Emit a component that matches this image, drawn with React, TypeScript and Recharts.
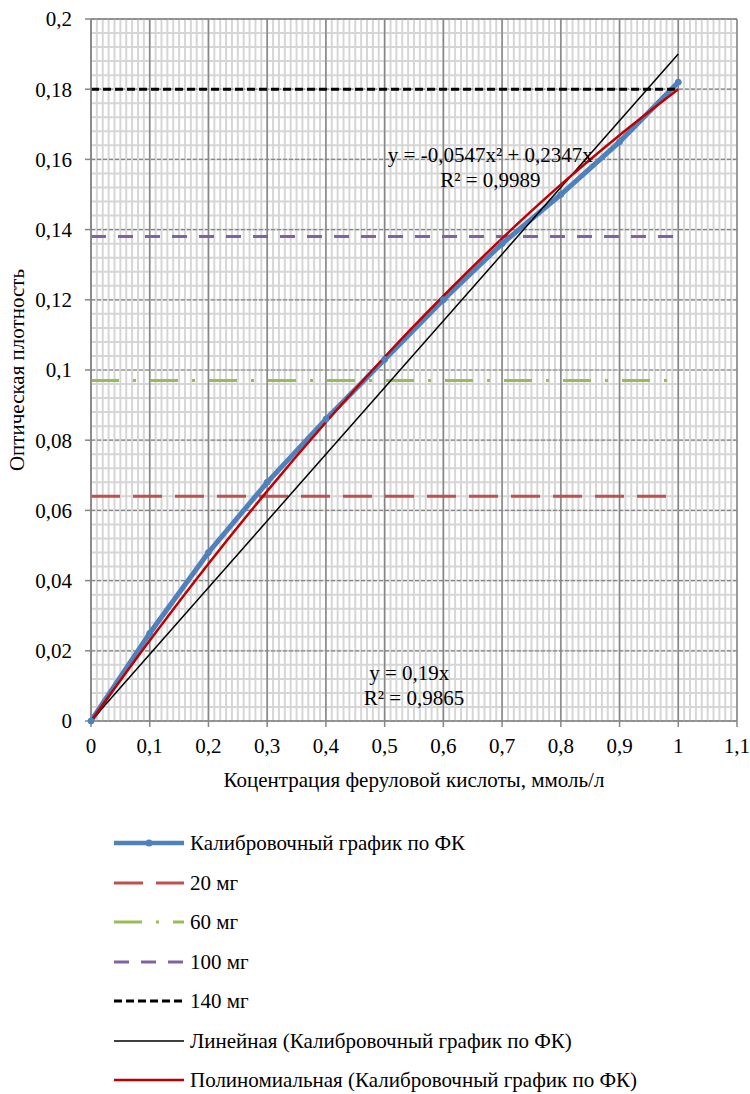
import React from 'react';
import { LineChart, Line, XAxis, YAxis, CartesianGrid, ReferenceLine, ReferenceDot } from 'recharts';

// page starts at the very corner, so the chart can use the full 750x1094 window
if (typeof document !== 'undefined') document.body.style.margin = '0';

const FONT = "'Liberation Serif', 'Times New Roman', serif";
const GRID = '#868686';
const MINOR = '#d6d6d6';

// tick labels
const xTicks = [0, 0.1, 0.2, 0.3, 0.4, 0.5, 0.6, 0.7, 0.8, 0.9, 1, 1.1];
const yTicks = [0, 0.02, 0.04, 0.06, 0.08, 0.1, 0.12, 0.14, 0.16, 0.18, 0.2];
const minorX = Array.from({ length: 111 }, (_, i) => +(i * 0.01).toFixed(2));
const minorY = Array.from({ length: 51 }, (_, i) => +(i * 0.004).toFixed(3));

// calibration curve (ferulic acid)
const concentrations = [0, 0.1, 0.2, 0.3, 0.4, 0.5, 0.6, 0.7, 0.8, 0.9, 1];
const absorbance = [0, 0.025, 0.048, 0.068, 0.086, 0.103, 0.12, 0.136, 0.15, 0.165, 0.182];
const polyTrend = [0, 0.0229, 0.0448, 0.0655, 0.0851, 0.1037, 0.1211, 0.1375, 0.1528, 0.1669, 0.18];
const linearX = [0, 1];
const linearY = [0, 0.19];

// sample levels
const levelX = [0, 1];
const level20 = 0.064;
const level60 = 0.097;
const level100 = 0.138;
const level140 = 0.18;

const toPoints = (xs: number[], ys: number[]) => xs.map((x, i) => ({ x, y: ys[i] }));
const flat = (v: number) => levelX.map(x => ({ x, y: v }));
const fmt = (v: number) => String(v).replace('.', ',');

const calData = toPoints(concentrations, absorbance);
const polyData = toPoints(concentrations, polyTrend);
const linData = toPoints(linearX, linearY);

const legendItems = [
  { name: 'Калибровочный график по ФК', color: '#4f81bd', width: 4.5, dash: undefined, dot: true },
  { name: '20 мг', color: '#c0504d', width: 3, dash: '29 13' },
  { name: '60 мг', color: '#9bbb59', width: 3, dash: '28 14 3 14' },
  { name: '100 мг', color: '#8064a2', width: 3, dash: '15 12' },
  { name: '140 мг', color: '#000000', width: 3, dash: '8 4' },
  { name: 'Линейная (Калибровочный график по ФК)', color: '#000000', width: 1.5, dash: undefined },
  { name: 'Полиномиальная (Калибровочный график по ФК)', color: '#c00000', width: 2.5, dash: undefined },
];

const textStyle = { fontSize: 21, fill: '#000', fontFamily: FONT };

const eqLabel = (value: string) => ({ value, position: 'center' as const, ...textStyle });

// minor grid positions: use the axis scale when recharts hands it over, else the plot offset
const minorVertical = (props: any) => {
  const s = props?.xAxis?.scale;
  if (typeof s === 'function') return minorX.map(v => s(v));
  if (s && typeof s.map === 'function') return minorX.map(v => s.map(v));
  const o = props?.offset ?? { left: 91, width: 646 };
  return minorX.map(v => o.left + (v / 1.1) * o.width);
};
const minorHorizontal = (props: any) => {
  const s = props?.yAxis?.scale;
  if (typeof s === 'function') return minorY.map(v => s(v));
  if (s && typeof s.map === 'function') return minorY.map(v => s.map(v));
  const o = props?.offset ?? { top: 19, height: 702 };
  return minorY.map(v => o.top + (1 - v / 0.2) * o.height);
};

export default function App() {
  return (
    <div style={{ position: 'relative', width: 750, height: 1094, fontFamily: FONT }}>
      <LineChart width={750} height={810} margin={{ top: 19, right: 13, left: 0, bottom: 0 }}>
        <XAxis
          type="number"
          dataKey="x"
          domain={[0, 1.1]}
          ticks={xTicks}
          tickFormatter={fmt}
          height={89}
          tickSize={6}
          tickMargin={11}
          stroke={GRID}
          strokeWidth={1.5}
          tick={textStyle}
          label={{
            content: (p: any) => (
              <text x={p.viewBox.x + p.viewBox.width / 2} y={p.viewBox.y + 66} textAnchor="middle" {...textStyle}>
                Коцентрация феруловой кислоты, ммоль/л
              </text>
            ),
          }}
        />
        <YAxis
          type="number"
          domain={[0, 0.2]}
          ticks={yTicks}
          tickFormatter={fmt}
          width={91}
          tickSize={6}
          tickMargin={13}
          stroke={GRID}
          strokeWidth={1.5}
          tick={textStyle}
          label={{
            content: (p: any) => {
              const cy = p.viewBox.y + p.viewBox.height / 2;
              return (
                <text x={24} y={cy} textAnchor="middle" transform={`rotate(-90, 24, ${cy})`} {...textStyle}>
                  Оптическая плотность
                </text>
              );
            },
          }}
        />
        {/* minor grid: every 0.01 on x, every 0.004 on y */}
        <CartesianGrid
          stroke={MINOR}
          strokeWidth={2}
          verticalCoordinatesGenerator={minorVertical}
          horizontalCoordinatesGenerator={minorHorizontal}
        />
        <CartesianGrid horizontal={false} stroke={GRID} strokeWidth={1.5} />
        <CartesianGrid vertical={false} stroke={GRID} strokeWidth={1.2} strokeDasharray="4 2" />
        <ReferenceLine y={0.2} stroke={GRID} strokeWidth={1.5} />

        <Line data={calData} dataKey="y" stroke="#4f81bd" strokeWidth={5}
          dot={{ r: 3, fill: '#4f81bd', stroke: '#4f81bd', strokeWidth: 1 }} activeDot={false} isAnimationActive={false} />
        <Line data={flat(level20)} dataKey="y" stroke="#c0504d" strokeWidth={3} strokeDasharray="29 13" dot={false} activeDot={false} isAnimationActive={false} />
        <Line data={flat(level60)} dataKey="y" stroke="#9bbb59" strokeWidth={3} strokeDasharray="28 14 3 14" dot={false} activeDot={false} isAnimationActive={false} />
        <Line data={flat(level100)} dataKey="y" stroke="#8064a2" strokeWidth={3} strokeDasharray="15 12" dot={false} activeDot={false} isAnimationActive={false} />
        <Line data={flat(level140)} dataKey="y" stroke="#000000" strokeWidth={3} strokeDasharray="8 4" dot={false} activeDot={false} isAnimationActive={false} />
        <Line data={linData} dataKey="y" stroke="#000000" strokeWidth={1.5} dot={false} activeDot={false} isAnimationActive={false} />
        <Line data={polyData} dataKey="y" type="monotone" stroke="#c00000" strokeWidth={2.5} dot={false} activeDot={false} isAnimationActive={false} />

        <ReferenceDot x={0.68} y={0.1613} r={0} fill="none" stroke="none" label={eqLabel('y = -0,0547x² + 0,2347x')} />
        <ReferenceDot x={0.68} y={0.1544} r={0} fill="none" stroke="none" label={eqLabel('R² = 0,9989')} />
        <ReferenceDot x={0.542} y={0.0137} r={0} fill="none" stroke="none" label={eqLabel('y = 0,19x')} />
        <ReferenceDot x={0.55} y={0.0068} r={0} fill="none" stroke="none" label={eqLabel('R² = 0,9865')} />
      </LineChart>

      {legendItems.map((item, i) => (
        <div
          key={item.name}
          style={{ position: 'absolute', left: 113, top: 843 + i * 39.5 - 12, height: 24, display: 'flex', alignItems: 'center' }}
        >
          <svg width={72} height={12}>
            <line x1={1} y1={6} x2={71} y2={6} stroke={item.color} strokeWidth={item.width} strokeDasharray={item.dash} />
            {item.dot && <circle cx={36} cy={6} r={3.5} fill={item.color} />}
          </svg>
          <span style={{ fontSize: 21, lineHeight: '24px', marginLeft: 5, color: '#000', whiteSpace: 'nowrap' }}>{item.name}</span>
        </div>
      ))}
    </div>
  );
}
